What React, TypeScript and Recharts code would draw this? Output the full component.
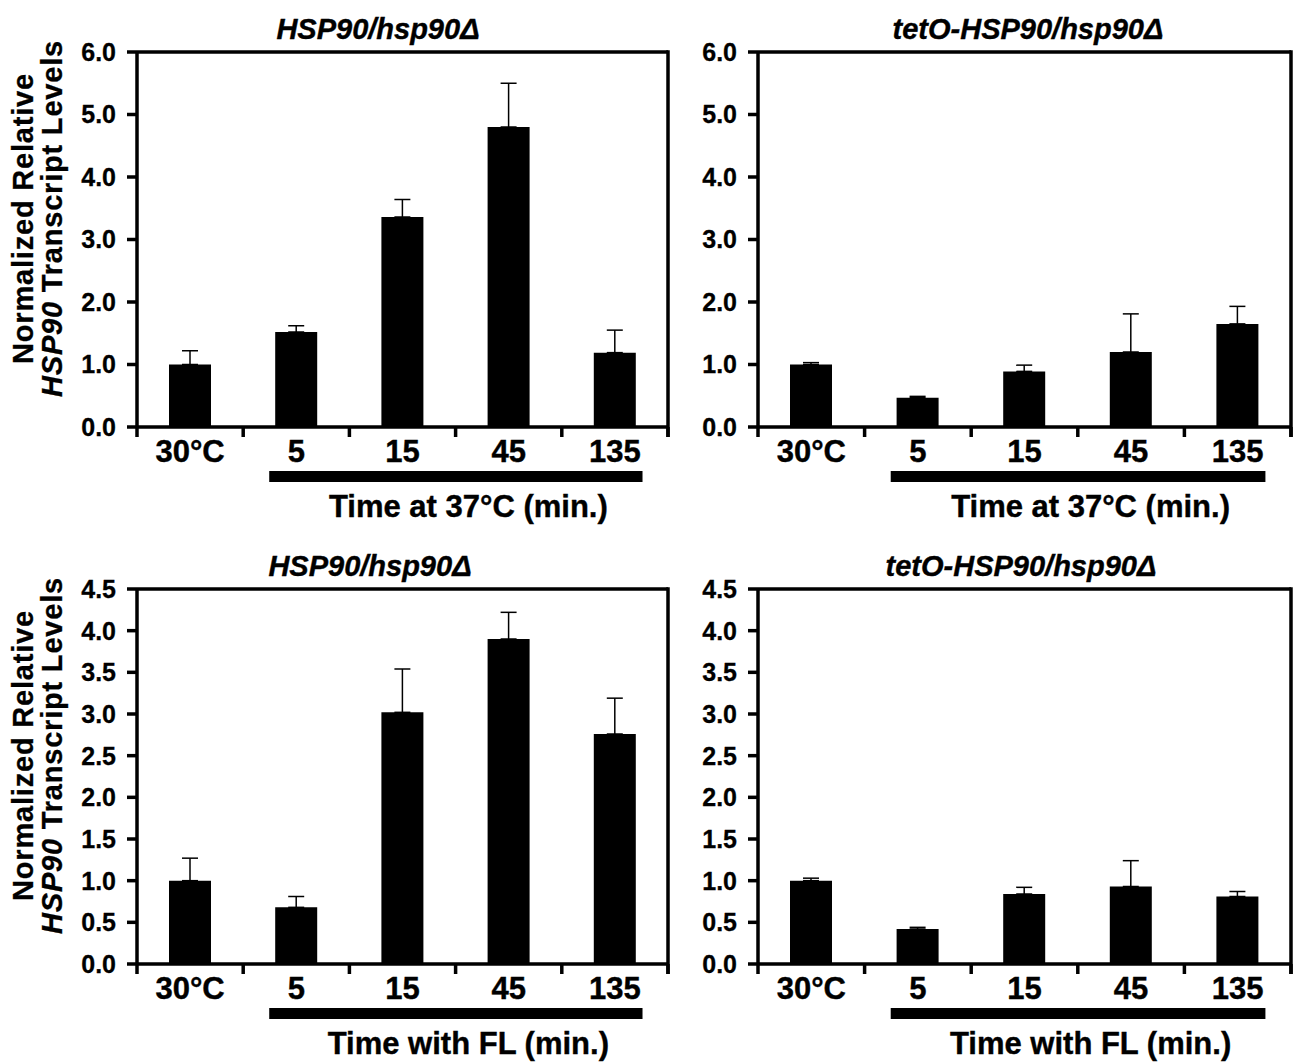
import React from "react";
import { BarChart, Bar, XAxis, YAxis, ErrorBar, ReferenceLine } from "recharts";

const categories = ["30°C", "5", "15", "45", "135"];

// heat shock (37°C) panels
const heatWildType = [1.0, 1.52, 3.36, 4.8, 1.19];
const heatWildTypeSd = [0.22, 0.1, 0.28, 0.7, 0.36];
const heatTetO = [1.0, 0.47, 0.89, 1.2, 1.65];
const heatTetOSd = [0.03, 0.02, 0.1, 0.61, 0.28];

// fluconazole panels
const flWildType = [1.0, 0.68, 3.02, 3.9, 2.76];
const flWildTypeSd = [0.27, 0.13, 0.52, 0.32, 0.43];
const flTetO = [1.0, 0.42, 0.84, 0.93, 0.81];
const flTetOSd = [0.03, 0.02, 0.08, 0.31, 0.06];

const heatTicks = [0, 1, 2, 3, 4, 5, 6];
const flTicks = [0, 0.5, 1, 1.5, 2, 2.5, 3, 3.5, 4, 4.5];

const FONT = '"Liberation Sans", Arial, Helvetica, sans-serif';
const LINE = 3.5;

interface PanelProps {
  left: number;
  top: number;
  width: number;
  height: number;
  plotLeft: number;
  plotRight: number;
  plotTop: number;
  plotBottom: number;
  values: number[];
  sds: number[];
  ticks: number[];
  title: string;
  titleX: number;
  titleY: number;
  xTitle: string;
  showYLabel: boolean;
}

const Panel = (p: PanelProps) => {
  const data = categories.map((c, i) => ({ cat: c, value: p.values[i], err: [0, p.sds[i]] }));
  const band = (p.plotRight - p.plotLeft) / categories.length;
  const max = p.ticks[p.ticks.length - 1];
  // chart-local coords
  const px0 = p.plotLeft - p.left;
  const px1 = p.plotRight - p.left;
  const py1 = p.plotBottom - p.top;
  const py0 = p.plotTop - p.top;
  const midY = (py0 + py1) / 2 - 21;

  const CatTick = (props: any) => {
    const { x, y, payload } = props;
    const idx = payload.index;
    return (
      <g>
        <line x1={x - band / 2} x2={x - band / 2} y1={y} y2={y + 10} stroke="#000" strokeWidth={LINE} />
        {idx === categories.length - 1 && (
          <line x1={x + band / 2} x2={x + band / 2} y1={y} y2={y + 10} stroke="#000" strokeWidth={LINE} />
        )}
        <text x={x} y={y + 35} textAnchor="middle" fontSize={31} fontWeight="bold" fontFamily={FONT}
          fill="#000" stroke="#000" strokeWidth={0.4}>
          {payload.value}
        </text>
      </g>
    );
  };

  return (
    <div style={{ position: "absolute", left: p.left, top: p.top }}>
      <BarChart
        width={p.width}
        height={p.height}
        data={data}
        margin={{ top: py0, right: p.left + p.width - p.plotRight, bottom: 0, left: 0 }}
      >
        <XAxis
          dataKey="cat"
          height={p.top + p.height - p.plotBottom}
          axisLine={{ stroke: "#000", strokeWidth: LINE }}
          tickLine={false}
          tickSize={0}
          tickMargin={0}
          tick={<CatTick />}
          interval={0}
        />
        <YAxis
          width={px0}
          domain={[0, max]}
          ticks={p.ticks}
          interval={0}
          tickFormatter={(v: number) => v.toFixed(1)}
          axisLine={{ stroke: "#000", strokeWidth: LINE }}
          tickLine={{ stroke: "#000", strokeWidth: LINE }}
          tickSize={10}
          tickMargin={11}
          tick={{ fontSize: 25, fontWeight: "bold", fontFamily: FONT, fill: "#000", stroke: "#000", strokeWidth: 0.3 }}
        />
        <ReferenceLine y={max} stroke="#000" strokeWidth={LINE} />
        <Bar dataKey="value" fill="#000" barSize={42} isAnimationActive={false}>
          <ErrorBar dataKey="err" direction="y" width={8} stroke="#000" strokeWidth={1.5} />
        </Bar>

        {/* right edge of the frame */}
        <line x1={px1} x2={px1} y1={py0 - LINE / 2} y2={py1 + 10} stroke="#000" strokeWidth={LINE} />

        <text x={p.titleX - p.left} y={p.titleY - p.top} textAnchor="middle" fontSize={29}
          fontWeight="bold" fontStyle="italic" fontFamily={FONT} fill="#000" stroke="#000" strokeWidth={0.4}>
          {p.title}
        </text>
        <rect x={px0 + band * 1.245} y={py1 + 44} width={band * (4.76 - 1.245)} height={11} fill="#000" />
        <text x={px0 + band * 3.12} y={py1 + 90} textAnchor="middle" fontSize={31} fontWeight="bold"
          fontFamily={FONT} fill="#000" stroke="#000" strokeWidth={0.4}>
          {p.xTitle}
        </text>
        {p.showYLabel && (
          <g fontFamily={FONT} fontWeight="bold" fontSize={29} fill="#000" stroke="#000" strokeWidth={0.3}
            letterSpacing={0.8}>
            <text x={33} y={midY} textAnchor="middle" transform={`rotate(-90, 33, ${midY})`}>
              Normalized Relative
            </text>
            <text x={62} y={midY} textAnchor="middle" transform={`rotate(-90, 62, ${midY})`}>
              <tspan fontStyle="italic">HSP90</tspan> Transcript Levels
            </text>
          </g>
        )}
      </BarChart>
    </div>
  );
};

const App = () => (
  <div style={{ position: "absolute", left: 0, top: 0, width: 1299, height: 1064, background: "#fff" }}>
    <Panel left={0} top={0} width={680} height={540} plotLeft={137} plotRight={668} plotTop={52} plotBottom={427}
      values={heatWildType} sds={heatWildTypeSd} ticks={heatTicks} title="HSP90/hsp90Δ" titleX={378} titleY={39}
      xTitle="Time at 37°C (min.)" showYLabel />
    <Panel left={680} top={0} width={619} height={540} plotLeft={758} plotRight={1291} plotTop={52} plotBottom={427}
      values={heatTetO} sds={heatTetOSd} ticks={heatTicks} title="tetO-HSP90/hsp90Δ" titleX={1028} titleY={39}
      xTitle="Time at 37°C (min.)" showYLabel={false} />
    <Panel left={0} top={540} width={680} height={524} plotLeft={137} plotRight={668} plotTop={589} plotBottom={964}
      values={flWildType} sds={flWildTypeSd} ticks={flTicks} title="HSP90/hsp90Δ" titleX={370} titleY={576}
      xTitle="Time with FL (min.)" showYLabel />
    <Panel left={680} top={540} width={619} height={524} plotLeft={758} plotRight={1291} plotTop={589} plotBottom={964}
      values={flTetO} sds={flTetOSd} ticks={flTicks} title="tetO-HSP90/hsp90Δ" titleX={1021} titleY={576}
      xTitle="Time with FL (min.)" showYLabel={false} />
  </div>
);

export default App;
